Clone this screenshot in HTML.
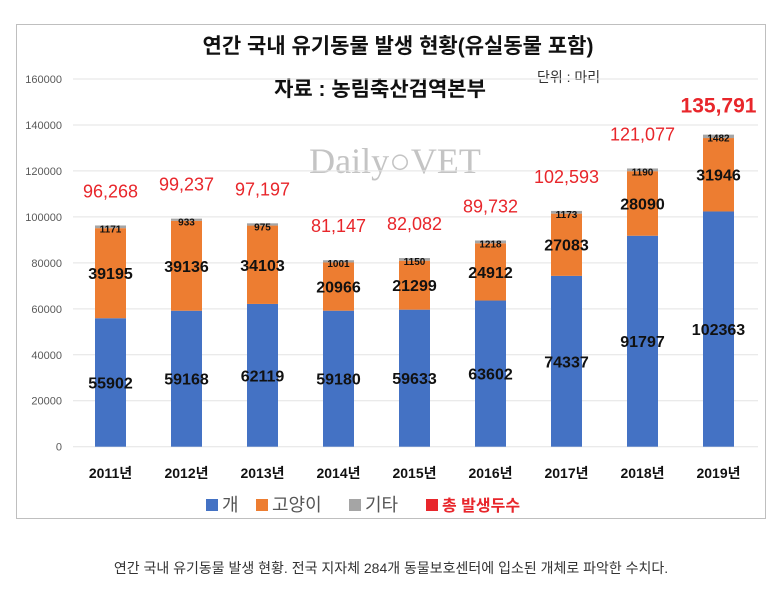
<!DOCTYPE html>
<html><head><meta charset="utf-8"><style>
body{margin:0;background:#fff;width:782px;height:594px;overflow:hidden;font-family:"Liberation Sans","Noto Sans CJK KR",sans-serif}
svg text{font-family:"Liberation Sans","Noto Sans CJK KR",sans-serif}
</style></head><body>
<svg id="chart" width="782" height="594" xmlns="http://www.w3.org/2000/svg">
<rect x="16.5" y="24.5" width="749" height="494" fill="#fff" stroke="#bfbfbf"/>
<text x="398" y="53" text-anchor="middle" font-size="21" font-weight="bold" fill="#111">연간 국내 유기동물 발생 현황(유실동물 포함)</text>
<text x="380" y="96" text-anchor="middle" font-size="21" font-weight="bold" fill="#111">자료 : 농림축산검역본부</text>
<text x="537" y="82" font-size="14" fill="#333">단위 : 마리</text>
<text x="395" y="173" text-anchor="middle" style="font-family:'Liberation Serif',serif;font-size:36px" fill="#c4c4c4">Daily○VET</text>
<g id="grid"></g><g id="bars"></g><g id="labels"></g>
<g>
<rect x="206" y="499" width="12" height="12" fill="#4472C4"/>
<text x="222" y="511" font-size="18" fill="#555">개</text>
<rect x="256" y="499" width="12" height="12" fill="#ED7D31"/>
<text x="272" y="511" font-size="18" fill="#555">고양이</text>
<rect x="349" y="499" width="12" height="12" fill="#A5A5A5"/>
<text x="365" y="511" font-size="18" fill="#555">기타</text>
<rect x="426" y="499" width="12" height="12" fill="#e8262b"/>
<text x="442" y="511" font-size="16" font-weight="bold" fill="#e8262b">총 발생두수</text>
</g>
<text x="391" y="573" text-anchor="middle" font-size="14" fill="#333">연간 국내 유기동물 발생 현황. 전국 지자체 284개 동물보호센터에 입소된 개체로 파악한 수치다.</text>
</svg>
<script>
const years=["2011년","2012년","2013년","2014년","2015년","2016년","2017년","2018년","2019년"];
const dogs=[55902,59168,62119,59180,59633,63602,74337,91797,102363];
const cats=[39195,39136,34103,20966,21299,24912,27083,28090,31946];
const others=[1171,933,975,1001,1150,1218,1173,1190,1482];
const totals=[96268,99237,97197,81147,82082,89732,102593,121077,135791];
const yTicks=[0,20000,40000,60000,80000,100000,120000,140000,160000];
const NS="http://www.w3.org/2000/svg";
const y0=446.7,y1=79,ymax=160000,left=73,right=758,x0=110.5,step=76,bw=31;
const Y=v=>y0-(v/ymax)*(y0-y1);
const X=i=>x0+i*step;
function mk(tag,attrs,parent,txt){const e=document.createElementNS(NS,tag);for(const k in attrs)e.setAttribute(k,attrs[k]);if(txt!==undefined)e.textContent=txt;parent.appendChild(e);return e;}
const grid=document.getElementById('grid'),bars=document.getElementById('bars'),labels=document.getElementById('labels');
yTicks.forEach(t=>{
 const l=mk('line',{x1:left,x2:right,y1:Y(t),y2:Y(t),stroke:'#e3e3e3'},grid);
 
 
 const tx=mk('text',{x:62,y:Y(t)+4,'text-anchor':'end','font-size':'11',fill:'#595959'},grid,String(t));
 
 
});
years.forEach((yr,i)=>{
 const cx=X(i),bx=cx-bw/2;
 const segs=[[0,dogs[i],'#4472C4','bar-dog'],[dogs[i],dogs[i]+cats[i],'#ED7D31','bar-cat'],[dogs[i]+cats[i],dogs[i]+cats[i]+others[i],'#A5A5A5','bar-other']];
 segs.forEach(s=>{
  const r=mk('rect',{x:bx,y:Y(s[1]),width:bw,height:Y(s[0])-Y(s[1]),fill:s[2]},bars);
  
  
 });
 const top=dogs[i]+cats[i]+others[i];
 const a=mk('text',{x:cx,y:(Y(0)+Y(dogs[i]))/2+6,'text-anchor':'middle','font-size':'16','font-weight':'bold',fill:'#111'},labels,String(dogs[i]));
 
 
 const b=mk('text',{x:cx,y:(Y(dogs[i])+Y(dogs[i]+cats[i]))/2+6,'text-anchor':'middle','font-size':'16','font-weight':'bold',fill:'#111'},labels,String(cats[i]));
 
 
 const c=mk('text',{x:cx,y:Y(top)+7,'text-anchor':'middle','font-size':'10','font-weight':'bold',fill:'#111'},labels,String(others[i]));
 
 
 const last=i===years.length-1;
 const d=mk('text',{x:cx,y:Y(totals[i])-(last?22:28),'text-anchor':'middle','font-size':last?'21':'18','font-weight':last?'bold':'normal',fill:'#e8262b'},labels,totals[i].toLocaleString('en-US'));
 
 
 const e=mk('text',{x:cx,y:478,'text-anchor':'middle','font-size':'14','font-weight':'bold',fill:'#111'},labels,yr);
 
 
});
</script>
</body></html>
